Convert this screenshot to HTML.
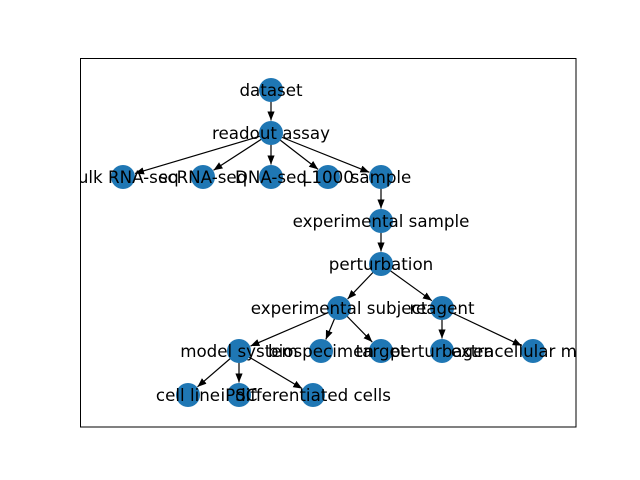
<!DOCTYPE html>
<html><head><meta charset="utf-8"><style>html,body{margin:0;padding:0;background:#fff;width:640px;height:480px;overflow:hidden}</style></head>
<body>
<svg id="s" width="640" height="480" xmlns="http://www.w3.org/2000/svg">
<defs><clipPath id="c"><rect x="80" y="58" width="496" height="369"/></clipPath>
<marker id="a" viewBox="0 0 10 10" refX="10" refY="5" markerWidth="9" markerHeight="9" markerUnits="userSpaceOnUse" orient="auto"><path d="M0,1 L10,5 L0,9 Z" fill="#000"/></marker></defs>
<rect x="80.5" y="58.5" width="495.5" height="368.5" fill="none" stroke="#000" stroke-width="1"/>
<g id="e" stroke="#000" stroke-width="1.2"></g>
<g id="n" fill="#1f77b4"></g>
<g id="t" clip-path="url(#c)" font-family="DejaVu Sans, sans-serif" font-size="16.7px" text-anchor="middle" dominant-baseline="central" fill="#000"></g>
</svg>
<script>
var N={dataset:[271,90],"readout assay":[271,133],"bulk RNA-seq":[123,177],"scRNA-seq":[203,177],"DNA-seq":[271,177],"L1000":[328,177],"sample":[381,177],"experimental sample":[381,221],"perturbation":[381,264],"experimental subject":[339,308],"reagent":[442,308],"model system":[239,351],"biospecimen":[321,351],"target":[381,351],"perturbagen":[442,351],"extracellular matrix":[533,351],"cell line":[188,395],"iPSC":[239,395],"differentiated cells":[313,395]};
var E=[["dataset","readout assay"],["readout assay","bulk RNA-seq"],["readout assay","scRNA-seq"],["readout assay","DNA-seq"],["readout assay","L1000"],["readout assay","sample"],["sample","experimental sample"],["experimental sample","perturbation"],["perturbation","experimental subject"],["perturbation","reagent"],["experimental subject","model system"],["experimental subject","biospecimen"],["experimental subject","target"],["reagent","perturbagen"],["reagent","extracellular matrix"],["model system","cell line"],["model system","iPSC"],["model system","differentiated cells"]];
var ns="http://www.w3.org/2000/svg";
function el(t,a,p){var e=document.createElementNS(ns,t);for(var k in a)e.setAttribute(k,a[k]);document.getElementById(p).appendChild(e);return e}
E.forEach(function(x){var a=N[x[0]],b=N[x[1]],dx=b[0]-a[0],dy=b[1]-a[1],L=Math.hypot(dx,dy),ux=dx/L,uy=dy/L;
el("line",{x1:a[0],y1:a[1],x2:b[0]-ux*12.5,y2:b[1]-uy*12.5,"marker-end":"url(#a)"},"e")});
for(var k in N){el("circle",{cx:N[k][0],cy:N[k][1],r:12},"n");var t=el("text",{x:N[k][0],y:N[k][1]},"t");t.textContent=k;}
</script>
</body></html>
